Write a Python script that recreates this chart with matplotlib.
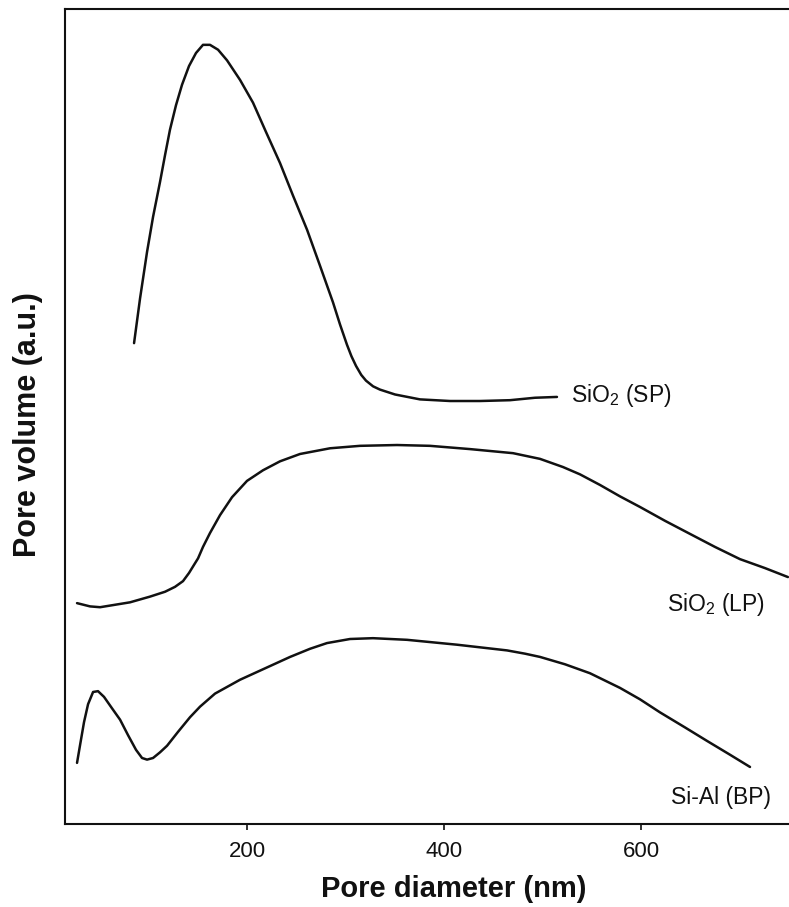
import matplotlib.pyplot as plt
from matplotlib import font_manager

# pore size distributions (x: pore diameter in nm, y: pore volume in a.u.)
sp_diam = [85.3, 91.4, 98.5, 104.6, 111.7, 116.8, 121.8, 127.9, 134.0, 141.1, 148.2, 155.3,
           162.4, 170.6, 179.7, 192.9, 206.1, 219.3, 233.5, 246.7, 261.0, 274.1, 287.3,
           294.4, 301.5, 306.0, 310.7, 316.0, 320.8, 328.0, 335.0, 350.3, 375.6, 406.1,
           436.5, 467.0, 492.4, 514.7]
sp_vol = [59.0, 64.5, 70.2, 74.5, 78.8, 82.1, 85.2, 88.2, 90.7, 93.0, 94.6, 95.6,
          95.6, 95.0, 93.7, 91.3, 88.5, 84.9, 81.1, 77.1, 72.9, 68.5, 64.0,
          61.3, 58.8, 57.4, 56.2, 55.1, 54.4, 53.7, 53.3, 52.7, 52.1, 51.9,
          51.9, 52.0, 52.3, 52.4]

lp_diam = [27.4, 40.6, 50.8, 66.0, 81.2, 101.5, 116.8, 126.9, 135.0, 141.1, 146.2, 150.3,
           155.3, 162.4, 172.6, 184.8, 200.0, 216.2, 233.5, 253.8, 284.3, 314.7, 352.3,
           385.8, 426.4, 470.1, 497.5, 520.8, 538.1, 558.4, 578.7, 599.0, 624.4, 649.7,
           675.1, 700.5, 725.9, 749.2]
lp_vol = [27.1, 26.7, 26.6, 26.9, 27.2, 27.9, 28.5, 29.1, 29.8, 30.8, 31.8, 32.6,
          34.0, 35.7, 37.9, 40.1, 42.1, 43.4, 44.5, 45.4, 46.1, 46.4, 46.5,
          46.4, 46.0, 45.5, 44.8, 43.8, 42.9, 41.6, 40.2, 38.9, 37.2, 35.6,
          34.0, 32.5, 31.4, 30.3]

bp_diam = [27.4, 30.5, 34.5, 38.6, 43.7, 48.7, 54.8, 62.9, 71.1, 79.2, 87.3, 93.4, 98.5,
           104.6, 111.7, 118.8, 129.9, 142.1, 152.3, 167.5, 192.9, 218.3, 243.7, 264.0,
           281.2, 304.6, 327.9, 362.4, 413.2, 464.0, 482.2, 497.5, 522.8, 548.2, 578.7,
           599.0, 619.3, 644.7, 667.0, 690.4, 710.7]
bp_vol = [7.5, 9.7, 12.5, 14.7, 16.2, 16.3, 15.6, 14.2, 12.8, 10.9, 9.1, 8.1, 7.9,
          8.1, 8.8, 9.6, 11.3, 13.1, 14.4, 16.0, 17.7, 19.1, 20.5, 21.5,
          22.2, 22.7, 22.8, 22.6, 22.0, 21.3, 20.9, 20.5, 19.6, 18.5, 16.7,
          15.3, 13.7, 11.85, 10.2, 8.5, 7.0]

names = ["SiO$_2$ (SP)", "SiO$_2$ (LP)", "Si-Al (BP)"]
name_pos = [(529, 52.6), (626, 26.9), (630, 3.3)]

available = {f.name for f in font_manager.fontManager.ttflist}
narrow = "Liberation Sans Narrow" if "Liberation Sans Narrow" in available else "Liberation Sans"
plt.rcParams["font.family"] = [narrow, "DejaVu Sans"]
plt.rcParams["mathtext.fontset"] = "custom"
plt.rcParams["mathtext.rm"] = narrow

fig = plt.figure(figsize=(7.89, 9.07), dpi=100)
ax = fig.add_axes([0.0824, 0.0915, 0.9176, 0.8986])

for d, v in [(sp_diam, sp_vol), (lp_diam, lp_vol), (bp_diam, bp_vol)]:
    ax.plot(d, v, color="#111111", lw=1.8, solid_capstyle="round", solid_joinstyle="round")

for name, (x, y) in zip(names, name_pos):
    ax.text(x, y, name, fontsize=16.5, va="center", ha="left", color="#111111")

ax.set_xlim(15.2, 750.3)
ax.set_ylim(0, 100)
ax.set_xticks([200, 400, 600])
ax.set_yticks([])
ax.tick_params(axis="x", direction="out", length=4, width=1.2, labelsize=16, pad=8,
               colors="#111111")
for side in ["left", "bottom", "top"]:
    ax.spines[side].set_linewidth(1.5)
    ax.spines[side].set_color("#111111")
ax.spines["right"].set_visible(False)

ax.set_xlabel("Pore diameter (nm)", fontsize=21, fontweight="bold",
              family=["Liberation Sans", "DejaVu Sans"], color="#111111")
ax.set_ylabel("Pore volume (a.u.)", fontsize=22, fontweight="bold",
              family=["Liberation Sans", "DejaVu Sans"], color="#111111")
ax.xaxis.set_label_coords(0.537, -0.062)
ax.yaxis.set_label_coords(-0.031, 0.49)

plt.savefig("out.png", dpi=100)
